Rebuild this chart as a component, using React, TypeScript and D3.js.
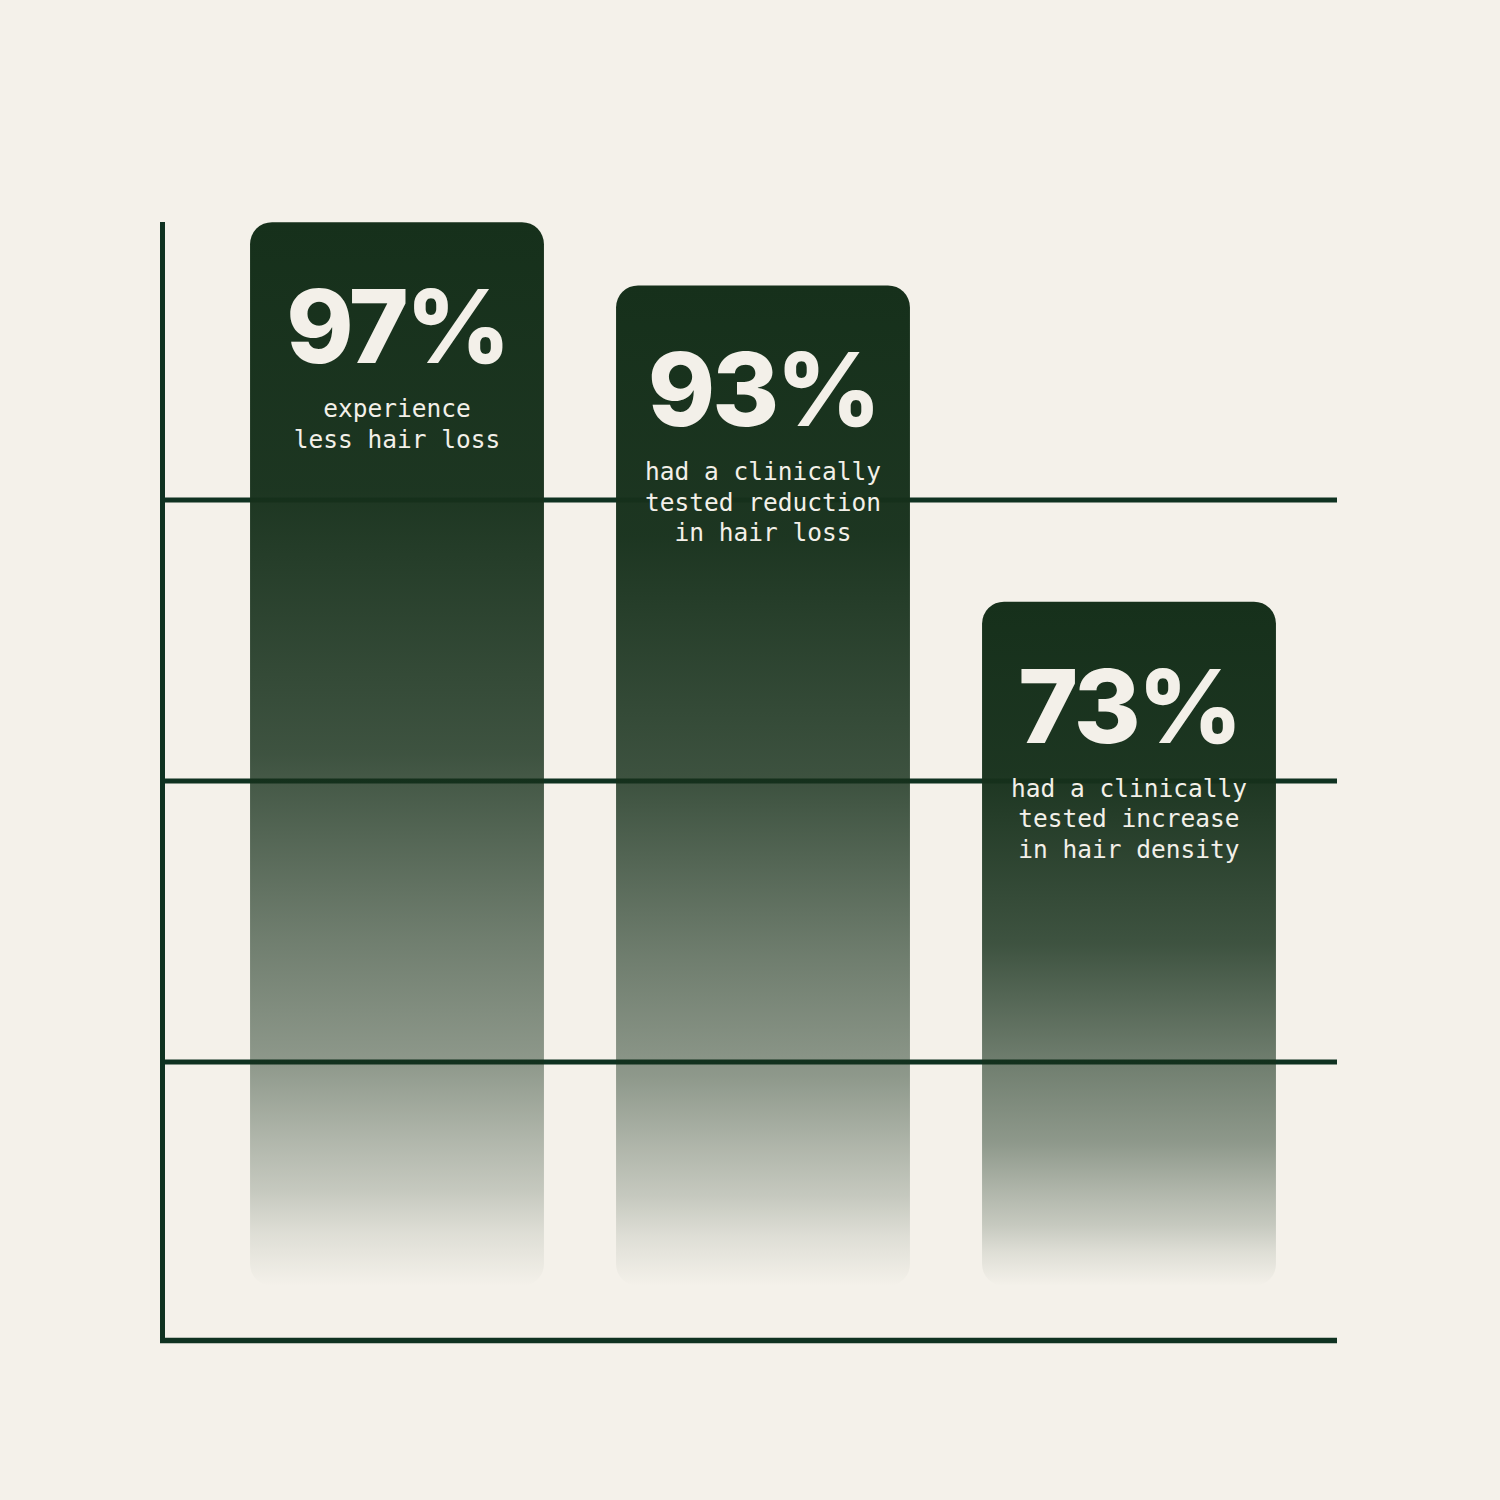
import {scaleBand, scaleLinear} from "d3";

// values
const CATEGORIES = ["less hair loss", "reduction in hair loss", "increase in hair density"];
const VALUES = [97, 93, 73];
const CAPTIONS = [
  ["experience", "less hair loss"],
  ["had a clinically", "tested reduction", "in hair loss"],
  ["had a clinically", "tested increase", "in hair density"]
];
const GRID_STEPS = [1, 2, 3];

// opacity profile of the bar fade, top to bottom
const FADE_STOPS: Array<[number, number]> = [
  [0, 1],
  [0.25, 0.97],
  [0.5, 0.82],
  [0.67, 0.6],
  [0.79, 0.46],
  [0.865, 0.3],
  [0.91, 0.21],
  [0.95, 0.1],
  [0.985, 0.03],
  [1, 0]
];

const BG = "#f4f1ea";
const INK = "#0f3221";
const BAR = "#16301b";
const TEXT = "#f3f0e9";

export default function App() {
  const width = 1500;
  const height = 1500;
  const axisX = 162.5;
  const axisTop = 222;
  const baseline = 1340.5;
  const lineEnd = 1337;
  const barFloor = 1286;

  const x = scaleBand<string>()
    .domain(CATEGORIES)
    .range([214, 1312])
    .paddingInner(0.197)
    .paddingOuter(0.0985);
  const y = scaleLinear().domain([26.3, 97.2]).range([1340, 219]);
  const grid = scaleLinear().domain([0, 4]).range([1343, 219]);

  return (
    <svg
      width={width}
      height={height}
      viewBox={`0 0 ${width} ${height}`}
      style={{position: "absolute", left: 0, top: 0, display: "block"}}
    >
      <defs>
        <linearGradient id="bar-fade" x1="0" y1="0" x2="0" y2="1">
          {FADE_STOPS.map(([offset, opacity]) => (
            <stop key={offset} offset={offset} stopColor={BAR} stopOpacity={opacity} />
          ))}
        </linearGradient>
      </defs>

      <rect width={width} height={height} fill={BG} />

      {GRID_STEPS.map((step) => (
        <line key={step} x1={axisX} x2={lineEnd} y1={grid(step)} y2={grid(step)} stroke={INK} strokeWidth={5} />
      ))}
      <line x1={axisX} x2={axisX} y1={axisTop} y2={baseline + 2.5} stroke={INK} strokeWidth={5} />
      <line x1={axisX - 2.5} x2={lineEnd} y1={baseline} y2={baseline} stroke={INK} strokeWidth={5.5} />

      {CATEGORIES.map((category, i) => {
        const left = x(category) ?? 0;
        const top = y(VALUES[i]);
        const center = left + x.bandwidth() / 2;
        return (
          <g key={category}>
            <rect
              x={left}
              y={top}
              width={x.bandwidth()}
              height={barFloor - top}
              rx={22}
              fill="url(#bar-fade)"
            />
            <text
              x={center}
              y={top + 141}
              textAnchor="middle"
              fill={TEXT}
              fontFamily="Inter, 'Noto Sans', sans-serif"
              fontWeight={800}
              fontSize={102}
              letterSpacing={-3}
            >
              {VALUES[i]}%
            </text>
            {CAPTIONS[i].map((line, j) => (
              <text
                key={j}
                x={center}
                y={top + 195 + j * 30.5}
                textAnchor="middle"
                fill={TEXT}
                fontFamily="'DejaVu Sans Mono', 'Liberation Mono', monospace"
                fontSize={24.5}
              >
                {line}
              </text>
            ))}
          </g>
        );
      })}
    </svg>
  );
}
